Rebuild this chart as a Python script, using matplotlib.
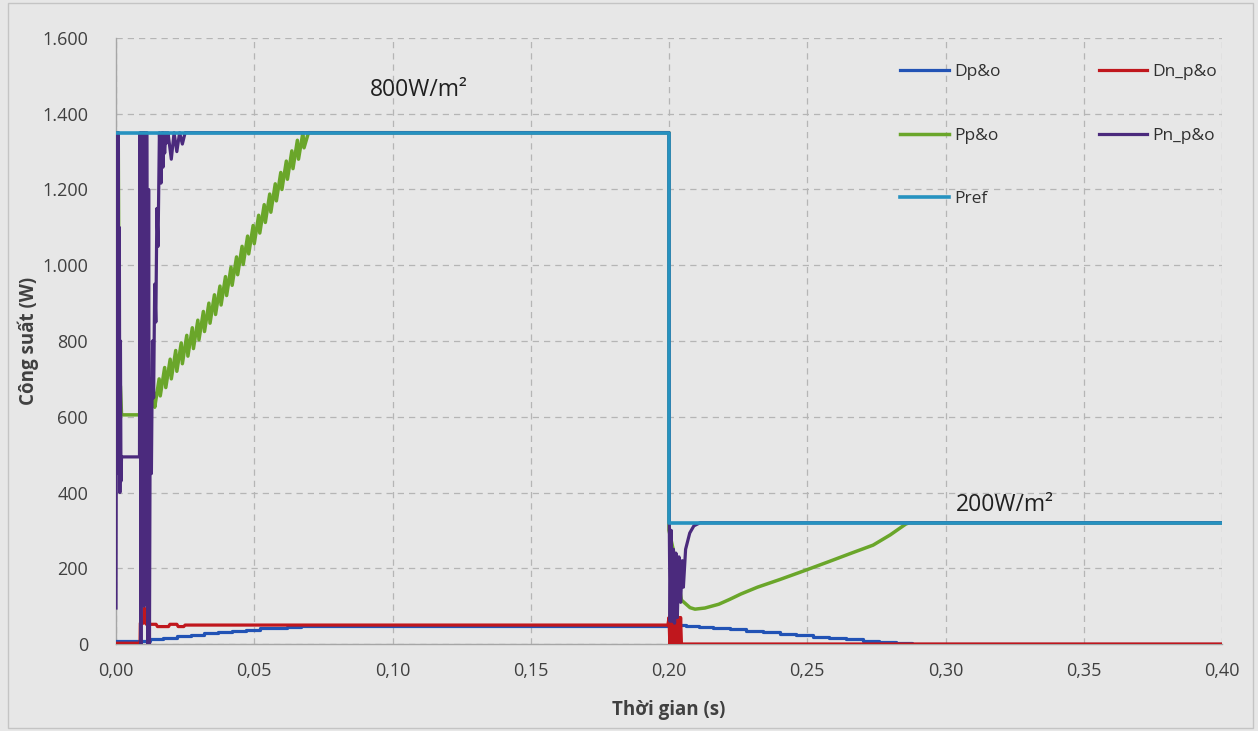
import matplotlib
matplotlib.use("Agg")
import matplotlib.pyplot as plt
from matplotlib.ticker import FuncFormatter
from matplotlib.patches import Rectangle

# ---------------- data ----------------
# Pref: reference power
pref_t = [0.0, 0.2, 0.2, 0.4]
pref_v = [1350, 1350, 320, 320]

# Dp&o (steps)
dp_t = [0.0, 0.0123, 0.017, 0.022, 0.027, 0.032, 0.037, 0.042, 0.047, 0.052, 0.057, 0.062,
        0.067, 0.072, 0.200, 0.206, 0.211, 0.216, 0.222, 0.228, 0.234, 0.240, 0.246, 0.252,
        0.258, 0.264, 0.270, 0.276, 0.282, 0.288, 0.400]
dp_v = [8, 13, 17, 21, 25, 28, 32, 35, 38, 41, 43, 45,
        47, 48, 50, 47, 45, 42, 39, 35, 31, 27, 23, 19,
        16, 12, 9, 6, 3, 0, 0]

# Dn_p&o
dn_t = [0.0, 0.0087, 0.0088, 0.0100, 0.0103, 0.0108, 0.0110, 0.0145, 0.0150, 0.0190, 0.0195,
        0.0220, 0.0225, 0.0245, 0.0250, 0.1996,
        0.2000, 0.2003, 0.2006, 0.2009, 0.2012, 0.2015, 0.2018, 0.2021, 0.2024, 0.2027,
        0.2030, 0.2033, 0.2036, 0.2039, 0.2042, 0.2045, 0.2047, 0.4000]
dn_v = [2, 2, 55, 55, 95, 60, 52, 52, 46, 46, 52,
        52, 46, 46, 50, 50,
        70, 0, 70, 0, 70, 0, 70, 0, 70, 0,
        70, 0, 70, 0, 70, 0, 0, 0]

# Pp&o
pp_t = [0.0, 0.0008, 0.0012, 0.0016, 0.0020, 0.0085, 0.0110,
        0.0120, 0.0136, 0.0140, 0.0156, 0.0160, 0.0176, 0.0180, 0.0196, 0.0200, 0.0216,
        0.0220, 0.0236, 0.0240, 0.0256, 0.0260, 0.0276, 0.0280, 0.0296, 0.0300, 0.0316,
        0.0320, 0.0336, 0.0340, 0.0356, 0.0360, 0.0376, 0.0380, 0.0396, 0.0400, 0.0416,
        0.0420, 0.0436, 0.0440, 0.0456, 0.0460, 0.0476, 0.0480, 0.0496, 0.0500, 0.0516,
        0.0520, 0.0536, 0.0540, 0.0556, 0.0560, 0.0576, 0.0580, 0.0596, 0.0600, 0.0616,
        0.0620, 0.0636, 0.0640, 0.0656, 0.0660, 0.0676, 0.0680, 0.0696, 0.0700,
        0.2000, 0.2000, 0.2015, 0.2045, 0.2076, 0.2094, 0.2130, 0.2180, 0.2220, 0.2260,
        0.2320, 0.2400, 0.2495, 0.2580, 0.2660, 0.2738, 0.2800, 0.2857, 0.2870, 0.4000]
pp_v = [1350, 1350, 700, 680, 605, 605, 605,
        590, 665, 625, 700, 655, 730, 677, 752, 700, 775,
        720, 795, 740, 815, 760, 835, 780, 855, 803, 878,
        825, 900, 847, 922, 870, 945, 895, 970, 920, 995,
        947, 1022, 975, 1050, 1002, 1077, 1030, 1105, 1057, 1132,
        1085, 1160, 1113, 1188, 1140, 1215, 1170, 1245, 1200, 1275,
        1227, 1302, 1255, 1330, 1280, 1350, 1310, 1350, 1350,
        1350, 300, 250, 116, 96, 92, 95, 105, 118, 132,
        150, 170, 195, 218, 240, 261, 288, 317, 320, 320]

# Pn_p&o
pn_t = [0.0, 0.0002, 0.0004, 0.0006, 0.0008, 0.0010, 0.0012, 0.0014, 0.0016, 0.0018, 0.0020,
        0.0085, 0.0087, 0.0090, 0.0093, 0.0096, 0.0099, 0.0102, 0.0104,
        0.0112, 0.0115, 0.0118, 0.0121, 0.0124, 0.0128, 0.0132, 0.0136, 0.0140, 0.0144,
        0.0148, 0.0152, 0.0157, 0.0163, 0.0166, 0.0170, 0.0172, 0.0176, 0.0180, 0.0183,
        0.0188, 0.0200, 0.0210, 0.0220, 0.0230, 0.0240, 0.0250, 0.0268, 0.2000,
        0.2001, 0.2004, 0.2008, 0.2012, 0.2016, 0.2020, 0.2025, 0.2030, 0.2036, 0.2042,
        0.2048, 0.2052, 0.2060, 0.2075, 0.2090, 0.2112, 0.4000]
pn_v = [95, 960, 1350, 700, 1350, 450, 1100, 400, 800, 430, 494,
        494, 1350, 0, 1350, 200, 1350, 100, 1350,
        1350, 0, 1200, 0, 700, 450, 800, 650, 950, 850,
        1150, 1050, 1350, 1217, 1350, 1259, 1350, 1296, 1350, 1323,
        1350, 1280, 1350, 1300, 1350, 1320, 1350, 1350, 1350,
        320, 60, 300, 60, 250, 55, 240, 70, 230, 110,
        220, 150, 250, 293, 312, 320, 320]

x_ticks = [0.00, 0.05, 0.10, 0.15, 0.20, 0.25, 0.30, 0.35, 0.40]
y_ticks = [0, 200, 400, 600, 800, 1000, 1200, 1400, 1600]

# ---------------- style ----------------
plt.rcParams['font.family'] = ['Open Sans', 'DejaVu Sans']
BG = '#e7e7e7'
C_DP = '#2253b5'
C_DN = '#c0171d'
C_PP = '#6aa62a'
C_PN = '#4b2a7d'
C_PREF = '#2692c0'
TXT = '#404040'

fig = plt.figure(figsize=(12.58, 7.31), dpi=100, facecolor=BG)
ax = fig.add_axes([116/1258, 1-644/731, (1222-116)/1258, (644-38)/731])
ax.set_facecolor(BG)

fig.patches.append(Rectangle((0.006, 0.004), 0.990, 0.992, transform=fig.transFigure,
                             fill=False, edgecolor='#c4c4c4', lw=1.0))

ax.plot(dp_t, dp_v, color=C_DP, lw=2.3, drawstyle='steps-post', label='Dp&o', zorder=3)
ax.plot(dn_t, dn_v, color=C_DN, lw=2.3, label='Dn_p&o', zorder=4)
ax.plot(pp_t, pp_v, color=C_PP, lw=2.5, label='Pp&o', zorder=5)
ax.plot(pn_t, pn_v, color=C_PN, lw=2.3, label='Pn_p&o', zorder=6)
ax.plot(pref_t, pref_v, color=C_PREF, lw=2.6, label='Pref', zorder=7)

ax.set_xlim(0, 0.40)
ax.set_ylim(0, 1600)
ax.set_xticks(x_ticks)
ax.set_yticks(y_ticks)
ax.xaxis.set_major_formatter(FuncFormatter(lambda v, p: f"{v:.2f}".replace('.', ',')))
ax.yaxis.set_major_formatter(FuncFormatter(lambda v, p: f"{int(round(v)):,}".replace(',', '.')))
ax.tick_params(length=0, labelsize=13, colors=TXT)
ax.tick_params(axis='y', pad=20)
ax.tick_params(axis='x', pad=13)

ax.grid(True, color='#b5b5b5', linestyle=(0, (5, 4)), lw=0.9)
for s in ['top', 'right']:
    ax.spines[s].set_visible(False)
for s in ['left', 'bottom']:
    ax.spines[s].set_color('#a6a6a6')
    ax.spines[s].set_linewidth(1.0)
ax.set_axisbelow(True)

ax.set_xlabel('Thời gian (s)', fontsize=13.5, fontweight='bold', color=TXT, labelpad=14)
ax.set_ylabel('Công suất (W)', fontsize=13.5, fontweight='bold', color=TXT, labelpad=2)

ax.text(0.1096, 1463, '800W/m²', fontsize=16.5, color='#202020', ha='center', va='center')
ax.text(0.3215, 367, '200W/m²', fontsize=16.5, color='#202020', ha='center', va='center')

h, l = ax.get_legend_handles_labels()
order = [0, 2, 4, 1, 3]
leg = ax.legend([h[i] for i in order], [l[i] for i in order], ncol=2, loc='upper left',
                bbox_to_anchor=(0.709, 0.957), frameon=False, fontsize=12.5,
                labelspacing=2.72, handlelength=2.8, handletextpad=0.3,
                columnspacing=5.65, borderpad=0, borderaxespad=0)
for t in leg.get_texts():
    t.set_color('#303030')

fig.savefig('out.png', dpi=100, facecolor=BG)
